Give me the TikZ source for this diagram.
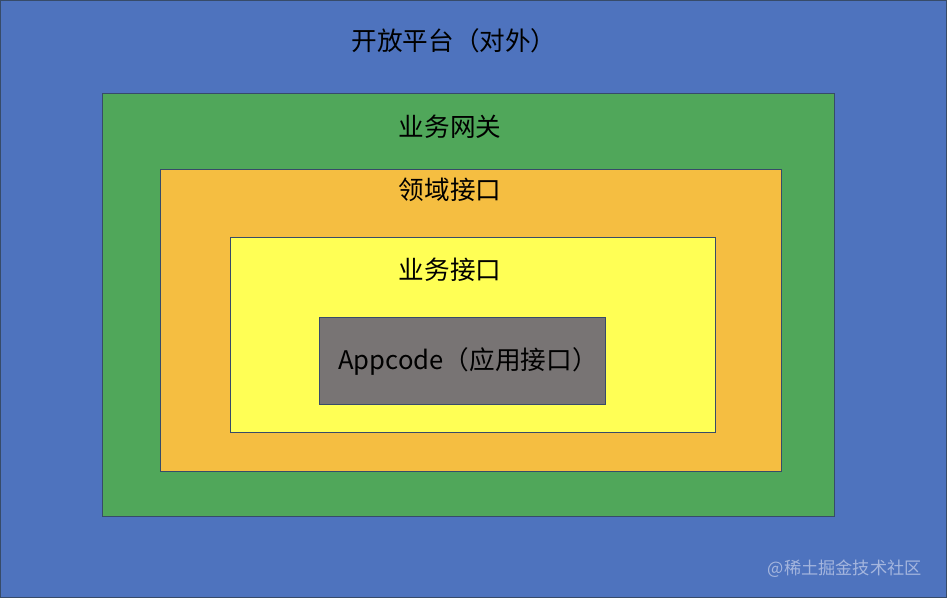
\documentclass[tikz,border=0pt]{standalone}
\usepackage{fontspec}
\setmainfont{Noto Sans CJK SC}
\usetikzlibrary{positioning}
\definecolor{platblue}{RGB}{78,115,190}
\definecolor{gwgreen}{RGB}{80,167,90}
\definecolor{domorange}{RGB}{245,190,65}
\definecolor{bizyellow}{RGB}{255,255,85}
\definecolor{appgray}{RGB}{120,116,116}
\definecolor{edgeline}{RGB}{55,75,105}
\definecolor{markgray}{RGB}{165,182,222}

\begin{document}
\begin{tikzpicture}[x=0.02cm, y=-0.02cm, semithick]
  \tikzstyle{layer}=[draw=edgeline, line width=0.5pt, inner sep=0pt, outer sep=0pt]
  \tikzstyle{caption}=[font=\fontsize{14.6}{17}\selectfont, text=black, inner sep=0pt]
  \node[layer, fill=platblue, minimum width=18.94cm, minimum height=11.96cm] (plat) at (473.5,299)   {};
  \node[layer, fill=gwgreen,  minimum width=14.66cm, minimum height=8.46cm]  (gw)   at (468.5,304.5) {};
  \node[layer, fill=domorange,minimum width=12.44cm, minimum height=6.04cm]  (dom)  at (471,320)     {};
  \node[layer, fill=bizyellow,minimum width=9.72cm,  minimum height=3.9cm]   (biz)  at (473,334.5)   {};
  \node[layer, fill=appgray,  minimum width=5.74cm,  minimum height=1.74cm]  (app)  at (462.5,360.5) {};
  % captions
  \node[caption] (platlbl) at (454,40)  {开放平台（对外）};
  \node[caption] (gwlbl)   at (450,126) {业务网关};
  \node[caption] (domlbl)  at (450,190) {领域接口};
  \node[caption] (bizlbl)  at (450,270) {业务接口};
  \node[caption] (applbl)  at (468,361) {Appcode（应用接口）};
  \node[font=\fontsize{9.8}{12}\selectfont, text=markgray, inner sep=0pt] (mark) at (845,569) {@稀土掘金技术社区};
\end{tikzpicture}
\end{document}
